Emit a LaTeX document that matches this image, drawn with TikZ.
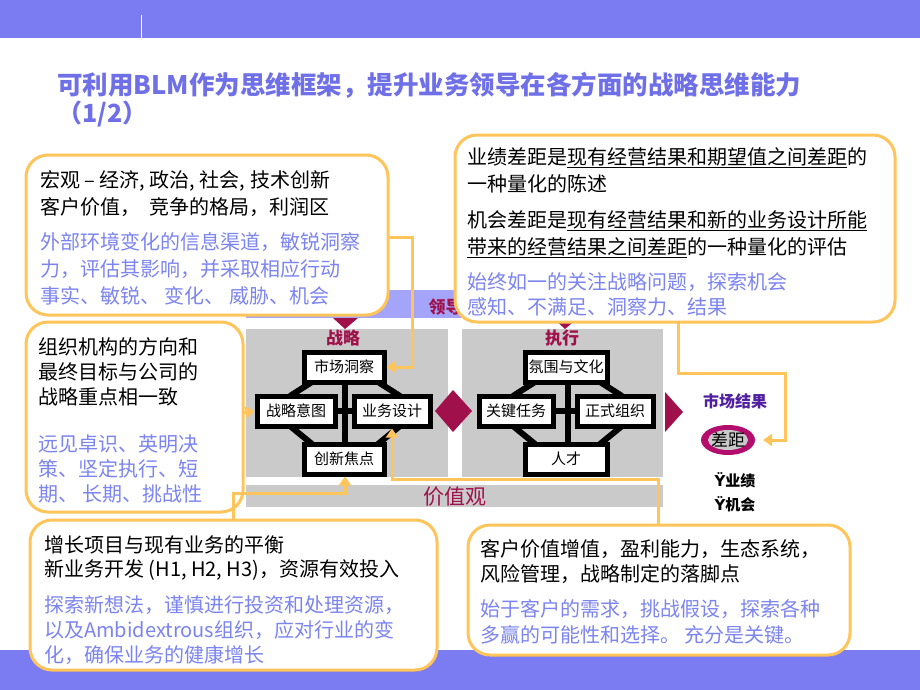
\documentclass[tikz,border=0pt]{standalone}
\usepackage{fontspec}
\setmainfont{Noto Sans CJK SC}
\newfontfamily\djv{DejaVu Sans}
\usetikzlibrary{arrows.meta}
\definecolor{band}{HTML}{7B7BF2}
\definecolor{ttl}{HTML}{6F70E8}
\definecolor{btx}{HTML}{7C84F0}
\definecolor{dred}{HTML}{A0104A}
\definecolor{org}{HTML}{FFC45A}
\definecolor{lband}{HTML}{A4A4FA}
\definecolor{pgray}{HTML}{CACACA}
\definecolor{purp}{HTML}{5020A0}
\tikzset{
 callout/.style={draw=org,line width=3pt,fill=white,rounded corners=22pt},
 txt/.style={anchor=north west,align=left,inner sep=0pt,font=\fontsize{20}{27}\selectfont},
 btxt/.style={txt,text=btx},
 flow/.style={draw=org,line width=3pt,-{Triangle[length=9pt,width=12pt]}},
 blm/.style={draw=black,line width=5pt,fill=white,inner sep=0pt,font=\fontsize{15}{15}\selectfont},
 conn/.style={draw=black,line width=6pt},
 lbl/.style={text=dred,font=\fontsize{17}{17}\selectfont\bfseries},
}
\begin{document}
\begin{tikzpicture}[x=1pt,y=-1pt]
\useasboundingbox (0,0) rectangle (920,690);
\fill[white] (0,0) rectangle (920,690);
% bands
\fill[band] (0,0) rectangle (920,38);
\draw[white,line width=0.8pt] (141,15) -- (141,38);
\fill[band] (0,650) rectangle (920,690);
\node[anchor=west,text=ttl,font=\fontsize{25.5}{25.5}\selectfont\bfseries,inner sep=0pt] (title) at (57,85) {可利用BLM作为思维框架，提升业务领导在各方面的战略思维能力};
\node[anchor=west,text=ttl,font=\fontsize{25}{25}\selectfont\bfseries,inner sep=0pt] (title2) at (57,114) {（1/2）};
% leadership band
\fill[lband] (246,290) rectangle (670,318);
\node[lbl] (lead) at (454,307) {领导力};
\fill[dred] (333,318) -- (358,318) -- (345,329) -- cycle;
\fill[dred] (553,318) -- (578,318) -- (565,329) -- cycle;
% panels
\fill[pgray] (246,329) rectangle (448,477);
\fill[pgray] (462,329) rectangle (663,477);
\fill[pgray] (246,485) rectangle (663,507);
\node[text=dred,font=\fontsize{21}{21}\selectfont] (values) at (455,497) {价值观};
\fill[dred] (435,411) -- (453,390) -- (472,411) -- (453,432) -- cycle;
\fill[dred] (665,392) -- (683,412) -- (665,432) -- cycle;
\node[lbl] (zl) at (343,338) {战略};
\node[lbl] (zx) at (562,338) {执行};
% left connectors
\draw[conn] (345,380) -- (345,446);
\draw[conn] (335,411) -- (356,411);
\draw[conn] (312,382) -- (290,396) (378,382) -- (400,396) (290,426) -- (312,444) (400,426) -- (378,444);
\node[blm,minimum width=80pt,minimum height=30pt] (sc) at (344,367) {市场洞察};
\node[blm,minimum width=78pt,minimum height=30pt] (yt) at (296,411) {战略意图};
\node[blm,minimum width=76pt,minimum height=30pt] (yw) at (392,411) {业务设计};
\node[blm,minimum width=80pt,minimum height=30pt] (cx) at (344,459) {创新焦点};
% right connectors
\draw[conn] (568,380) -- (568,446);
\draw[conn] (553,411) -- (577,411);
\draw[conn] (535,382) -- (513,396) (600,382) -- (622,396) (513,426) -- (535,444) (622,426) -- (600,444);
\node[blm,minimum width=82pt,minimum height=30pt] (fw) at (566,367) {氛围与文化};
\node[blm,minimum width=74pt,minimum height=30pt] (gj) at (516,411) {关键任务};
\node[blm,minimum width=76pt,minimum height=30pt] (zs) at (615,411) {正式组织};
\node[blm,minimum width=82pt,minimum height=30pt] (rc) at (566,459) {人才};
% market result
\node[text=purp,font=\fontsize{16}{16}\selectfont\bfseries] (sj) at (735,401) {市场结果};
\fill[dred!80!magenta] (728,440) ellipse [x radius=27pt,y radius=15pt];
\fill[pgray] (728,440) ellipse [x radius=20pt,y radius=10pt];
\node[font=\fontsize{17}{17}\selectfont,inner sep=0pt] (cj) at (728,440) {差距};
\coordinate (cjr) at (763,440);
\node[font=\fontsize{15}{15}\selectfont\bfseries] (yj) at (735,480) {{\djv Ÿ}业绩};
\node[font=\fontsize{15}{15}\selectfont\bfseries] (jh) at (735,504) {{\djv Ÿ}机会};
% boxes
\draw[callout] (26,155) rectangle (388,315);
\coordinate (b1) at (388,237);
\draw[callout] (455,135) rectangle (895,322);
\coordinate (b2) at (678,322);
\draw[callout] (26,322) rectangle (243,512);
\coordinate (b3) at (243,413);
\draw[callout] (30,520) rectangle (437,670);
\coordinate (b4) at (233,520);
\draw[callout] (468,525) rectangle (850,655);
\coordinate (b5) at (658,525);
% arrows
\draw[flow] (b1) -- (412,237) -- (412,367) -- (sc.east);
\draw[flow] (b2) -- (678,373) -- (785,373) -- (785,440) -- (cjr);
\draw[flow] (b3) -- (yt.west);
\draw[flow] (b4) -- (233,493) -- (345,493) -- (cx.south -| 345,0);
\draw[flow] (b5) -- (658,479) -- (392,479) -- (yw.south);
% texts
\node[txt] (t1) at (40,170) {宏观 – 经济, 政治, 社会, 技术创新\\客户价值，\ \ 竞争的格局，利润区};
\node[btxt] (t1b) at (40,232) {外部环境变化的信息渠道，敏锐洞察\\力，评估其影响，并采取相应行动\\事实、敏锐、 变化、 威胁、机会};
\node[txt] (t2) at (467,147) {业绩差距是\underline{现有经营结果和期望值之间差距}的\\一种量化的陈述};
\node[txt] (t2c) at (467,210) {机会差距是\underline{现有经营结果和新的业务设计所能}\\\underline{带来的经营结果之间差距}的一种量化的评估};
\node[txt,text=btx,font=\fontsize{20}{25}\selectfont] (t2b) at (467,272) {始终如一的关注战略问题，探索机会\\感知、不满足、洞察力、结果};
\node[txt,font=\fontsize{20}{25}\selectfont] (t3) at (38,337) {组织机构的方向和\\最终目标与公司的\\战略重点相一致};
\node[btxt,font=\fontsize{20}{25}\selectfont] (t3b) at (38,434) {远见卓识、英明决\\策、坚定执行、短\\期、 长期、挑战性};
\node[txt,font=\fontsize{20}{24}\selectfont] (t4) at (44,535) {增长项目与现有业务的平衡\\新业务开发 (H1, H2, H3)，资源有效投入};
\node[btxt,font=\fontsize{20}{25}\selectfont] (t4b) at (44,595) {探索新想法，谨慎进行投资和处理资源，\\以及Ambidextrous组织，应对行业的变\\化，确保业务的健康增长};
\node[txt,font=\fontsize{20}{25}\selectfont] (t5) at (480,539) {客户价值增值，盈利能力，生态系统，\\风险管理，战略制定的落脚点};
\node[btxt,font=\fontsize{20}{26}\selectfont] (t5b) at (480,599) {始于客户的需求，挑战假设，探索各种\\多赢的可能性和选择。 充分是关键。};
\end{tikzpicture}
\end{document}
